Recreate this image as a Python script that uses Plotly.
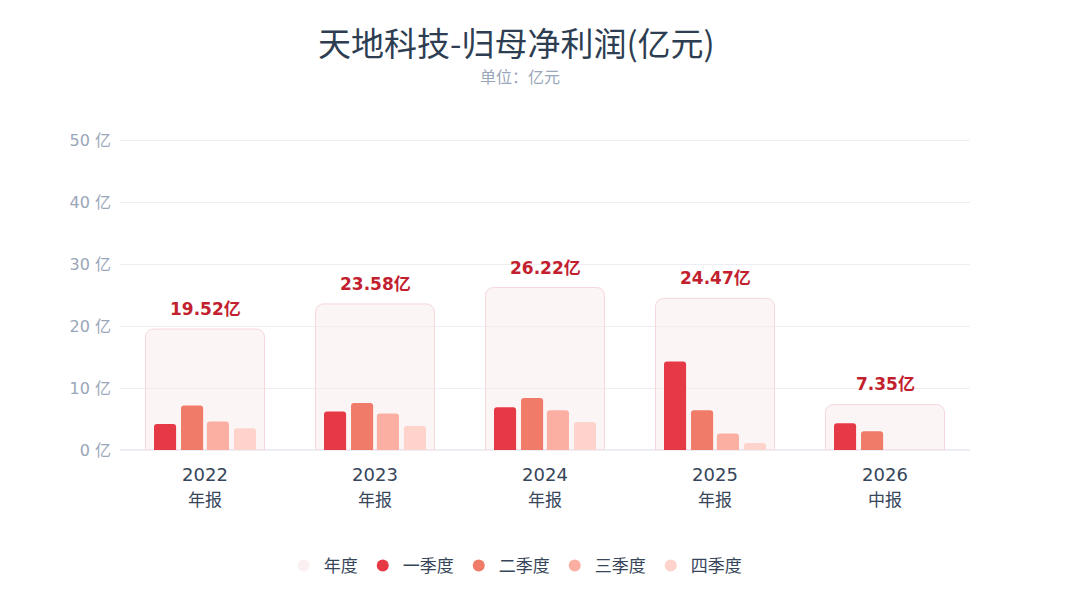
import plotly.graph_objects as go

# data
years = ["2022", "2023", "2024", "2025", "2026"]
report_types = ["年报", "年报", "年报", "年报", "中报"]
annual = [19.52, 23.58, 26.22, 24.47, 7.35]
q1 = [4.20, 6.20, 6.90, 14.30, 4.33]
q2 = [7.20, 7.60, 8.40, 6.40, 3.02]
q3 = [4.60, 5.90, 6.40, 2.65, None]
q4 = [3.52, 3.88, 4.52, 1.12, None]

quarter_names = ["一季度", "二季度", "三季度", "四季度"]
quarter_colors = ["#e63946", "#f07b69", "#fbafa3", "#fdd3cc"]
y_ticks = [0, 10, 20, 30, 40, 50]

FONT = "DejaVu Sans, Noto Sans CJK SC, sans-serif"
CJK = "Noto Sans CJK SC, sans-serif"
x_pos = list(range(len(years)))

# plot area in pixels (used to place title texts above it)
PLOT_LEFT, PLOT_RIGHT = 120, 970
PLOT_TOP, PLOT_BOTTOM = 134, 450
PLOT_W = PLOT_RIGHT - PLOT_LEFT
PLOT_H = PLOT_BOTTOM - PLOT_TOP

fig = go.Figure()

# annual background box
fig.add_trace(go.Bar(
    x=x_pos, y=annual, width=0.7,
    marker=dict(color="rgba(248,232,235,0.45)",
                line=dict(color="#f6d7dc", width=1), cornerradius=8),
    name="年度", showlegend=False, hoverinfo="skip",
))

# quarterly bars
bar_w = 0.13
offsets = [-0.300, -0.141, 0.011, 0.170]
for name, vals, color, off in zip(quarter_names, [q1, q2, q3, q4], quarter_colors, offsets):
    fig.add_trace(go.Bar(
        x=x_pos, y=vals, width=bar_w, offset=off,
        marker=dict(color=color, cornerradius=3, line=dict(width=0)),
        name=name, showlegend=False,
    ))

# legend entries as circles
legend_colors = ["#fbf0f1"] + quarter_colors
for name, color in zip(["年度"] + quarter_names, legend_colors):
    fig.add_trace(go.Scatter(
        x=[None], y=[None], mode="markers", name=name,
        marker=dict(symbol="circle", size=15, color=color),
    ))

# annual labels above boxes
for xi, v in zip(x_pos, annual):
    fig.add_annotation(
        x=xi, y=v, text=f"<b>{v:.2f}亿</b>", showarrow=False,
        yanchor="bottom", yshift=8,
        font=dict(family=FONT, size=17, color="#c21f2f"),
    )

# report type as second line under the year
for xi, r in zip(x_pos, report_types):
    fig.add_annotation(
        x=xi, y=0, text=r, showarrow=False,
        yanchor="top", yshift=-34,
        font=dict(family=CJK, size=17, color="#36455a"),
    )

# title and subtitle
fig.add_annotation(
    x=(516 - PLOT_LEFT) / PLOT_W, y=(PLOT_BOTTOM - 42) / PLOT_H,
    xref="paper", yref="paper",
    text="天地科技-归母净利润(亿元)", showarrow=False,
    xanchor="center", yanchor="middle",
    font=dict(family=CJK, size=33, color="#2e3e52"),
)
fig.add_annotation(
    x=(520 - PLOT_LEFT) / PLOT_W, y=(PLOT_BOTTOM - 76) / PLOT_H,
    xref="paper", yref="paper",
    text="单位：亿元", showarrow=False,
    xanchor="center", yanchor="middle",
    font=dict(family=CJK, size=16, color="#9aa6b9"),
)

fig.update_layout(
    width=1080, height=600,
    barmode="overlay",
    paper_bgcolor="white", plot_bgcolor="white",
    margin=dict(l=PLOT_LEFT, r=1080 - PLOT_RIGHT, t=PLOT_TOP, b=600 - PLOT_BOTTOM),
    xaxis=dict(
        tickmode="array", tickvals=x_pos, ticktext=years,
        range=[-0.5, len(years) - 0.5],
        showgrid=False, zeroline=False, showline=False, ticks="",
        tickfont=dict(family=FONT, size=18, color="#36455a"),
        ticklabelstandoff=12,
    ),
    yaxis=dict(
        range=[0, 51], tickvals=y_ticks,
        ticktext=[f"{t} 亿" for t in y_ticks],
        gridcolor="#eeedf3", zeroline=True, zerolinecolor="#eeedf3",
        tickfont=dict(family=FONT, size=16, color="#9aa6b9"),
        ticklabelstandoff=8,
    ),
    legend=dict(
        orientation="h", x=0.465, xanchor="center", y=-0.31, yanchor="top",
        font=dict(family=CJK, size=17, color="#36455a"),
        itemsizing="constant",
    ),
    showlegend=True,
)

fig.write_html("out.html", config={"displayModeBar": False},
               post_script="document.body.style.margin='0';")
